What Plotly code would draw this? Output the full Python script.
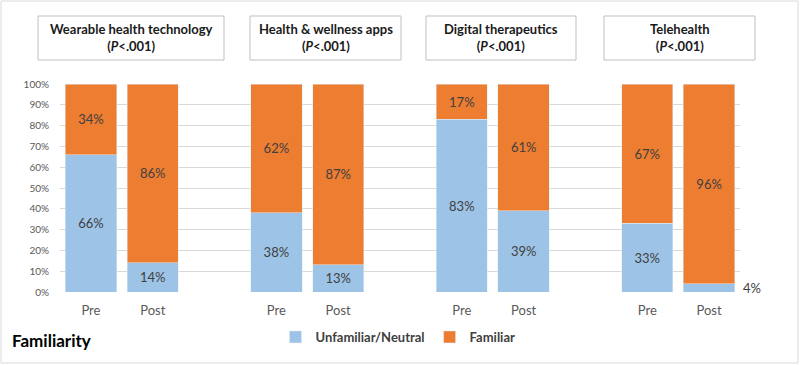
import plotly.graph_objects as go

# ---- data ----
groups = ["Wearable health technology", "Health & wellness apps", "Digital therapeutics", "Telehealth"]
p_values = ["<.001", "<.001", "<.001", "<.001"]
phases = ["Pre", "Post"]
unfamiliar = [66, 14, 38, 13, 83, 39, 33, 4]
familiar = [34, 86, 62, 87, 17, 61, 67, 96]
series_names = ["Unfamiliar/Neutral", "Familiar"]
y_ticks = [0, 10, 20, 30, 40, 50, 60, 70, 80, 90, 100]

BLUE = "#9DC3E6"
ORANGE = "#ED7D31"
TXT = "#404040"
FONT = "Lato"

# positions: 3 slots per group (pre, post, gap)
xpos = []
labels = []
for g in range(len(groups)):
    for j, ph in enumerate(phases):
        xpos.append(g * 3 + j)
        labels.append(ph)

W, H = 800, 365
ML, MR, MT, MB = 60, 60, 84, 73
PW, PH = W - ML - MR, H - MT - MB

def px(x):
    return (x - ML) / PW

def py(y):
    return (H - MB - y) / PH

fig = go.Figure()
fig.add_trace(go.Bar(
    x=xpos, y=unfamiliar, name="<b>" + series_names[0] + "</b>", marker_color=BLUE,
    width=0.83, text=[f"{v}%" for v in unfamiliar], textposition="inside",
    insidetextanchor="middle", textfont=dict(size=13, color=TXT, family=FONT),
    hoverinfo="skip",
))
fig.add_trace(go.Bar(
    x=xpos, y=familiar, name="<b>" + series_names[1] + "</b>", marker_color=ORANGE,
    width=0.83, text=[f"{v}%" for v in familiar], textposition="inside",
    insidetextanchor="middle", textfont=dict(size=13, color=TXT, family=FONT),
    hoverinfo="skip",
))

# labels that don't fit inside their segment
for x, u in zip(xpos, unfamiliar):
    if u < 8:
        fig.add_annotation(x=x, y=u / 2, xref="x", yref="y", text=f"{u}%",
                           showarrow=False, xanchor="left", yanchor="middle",
                           xshift=32, font=dict(size=13, color=TXT, family=FONT))

# title boxes
boxes = [(38, 224), (250, 401), (426, 576), (604, 755)]
for (x0, x1), name, p in zip(boxes, groups, p_values):
    fig.add_shape(type="rect", xref="paper", yref="paper",
                  x0=px(x0), x1=px(x1), y0=py(60), y1=py(16),
                  line=dict(color="#BFBFBF", width=1), fillcolor="white")
    fig.add_annotation(xref="paper", yref="paper", x=px((x0 + x1) / 2), y=py(38),
                       text=f"<b>{name}<br>(<i>P</i>{p})</b>", showarrow=False,
                       xanchor="center", yanchor="middle",
                       font=dict(size=13, color="#1a1a1a", family=FONT))

# outer border
fig.add_shape(type="rect", xref="paper", yref="paper",
              x0=px(1), x1=px(798), y0=py(363), y1=py(1),
              line=dict(color="#D9D9D9", width=1))

fig.add_annotation(xref="paper", yref="paper", x=px(10), y=py(340),
                   text="<b>Familiarity</b>", showarrow=False, xanchor="left",
                   yanchor="middle", font=dict(size=17, color="black", family=FONT))

fig.update_layout(
    width=W, height=H, barmode="stack",
    margin=dict(l=ML, r=MR, t=MT, b=MB),
    paper_bgcolor="white", plot_bgcolor="white",
    font=dict(family=FONT, color=TXT),
    uniformtext=dict(minsize=13, mode="hide"),
    legend=dict(orientation="h", x=px(398), y=py(337), xanchor="center",
                yanchor="middle", font=dict(size=13, color=TXT, family=FONT),
                itemwidth=30, traceorder="normal"),
    showlegend=True,
)
fig.update_xaxes(range=[-0.5, 10.5], tickvals=xpos, ticktext=labels,
                 tickfont=dict(size=13, color="#595959", family=FONT),
                 showgrid=False, zeroline=False, ticks="", ticklabelstandoff=9)
fig.update_yaxes(range=[0, 100], tickvals=y_ticks, ticktext=[f"{v}%" for v in y_ticks],
                 tickfont=dict(size=10, color="#595959", family=FONT),
                 showgrid=True, gridcolor="#D9D9D9", gridwidth=1,
                 zeroline=False, ticks="", ticklabelstandoff=10)

fig.write_html("out.html", post_script="document.body.style.margin='0';",
               config={"displayModeBar": False})
